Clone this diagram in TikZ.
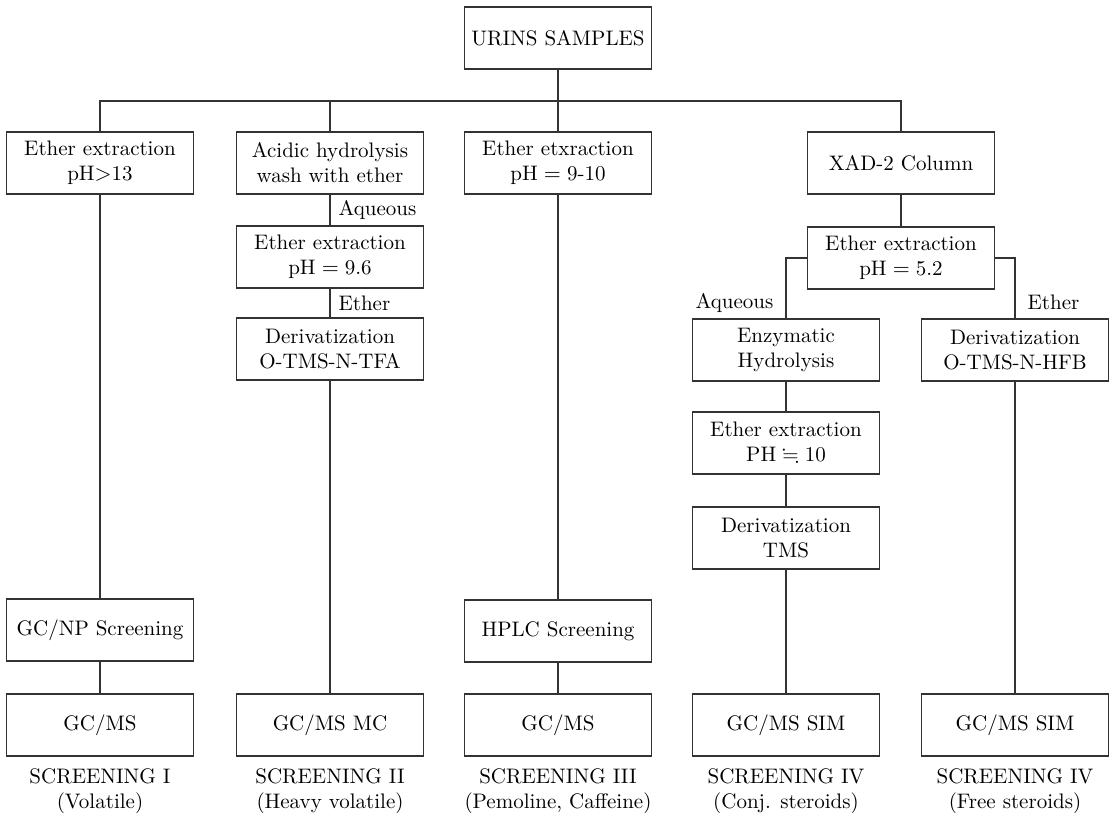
\documentclass[tikz,border=0pt]{standalone}
\usepackage{amssymb}
\usepackage{tikz}
\usetikzlibrary{positioning}
\tikzstyle{box} = [
    rectangle, text centered,
    align=center,
    draw=black!80,
    line width=0.6pt,
    minimum width=93.5pt,
    minimum height=31pt,
    inner sep=2pt,
    font=\fontsize{10.5}{12.5}\selectfont,
]
\tikzstyle{tag} = [
    align=center,
    inner sep=1pt,
    font=\fontsize{10.5}{12.5}\selectfont,
]
\tikzstyle{link} = [draw=black!80, line width=0.6pt]

\begin{document}
\begin{tikzpicture}[x=0.5pt,y=-0.5pt]
    \useasboundingbox (0,0) rectangle (1110,813);
    % boxes
    \node (urine) at (558,38) [box] {URINS SAMPLES};
    \node (extA) at (100,163) [box] {Ether extraction\\pH$>$13};
    \node (acid) at (330,163) [box] {Acidic hydrolysis\\wash with ether};
    \node (extB) at (330,257) [box] {Ether extraction\\pH${}={}$9.6};
    \node (derivB) at (330,349) [box] {Derivatization\\O-TMS-N-TFA};
    \node (extC) at (558,163) [box] {Ether etxraction\\pH${}={}$9-10};
    \node (xad) at (901,163) [box] {XAD-2 Column};
    \node (extD) at (901,258) [box] {Ether extraction\\pH${}={}$5.2};
    \node (enzyme) at (786,350) [box] {Enzymatic\\Hydrolysis};
    \node (derivF) at (1015,350) [box] {Derivatization\\O-TMS-N-HFB};
    \node (extE) at (786,443) [box] {Ether extraction\\PH${}\fallingdotseq{}$10};
    \node (derivE) at (786,538) [box] {Derivatization\\TMS};
    \node (npscreen) at (100,630) [box] {GC/NP Screening};
    \node (hplc) at (558,631) [box] {HPLC Screening};
    \foreach \name/\x/\txt in {msA/100/{GC/MS}, msB/330/{GC/MS MC}, msC/558/{GC/MS},
                               msD/786/{GC/MS SIM}, msE/1015/{GC/MS SIM}} {
        \node (\name) at (\x,725) [box] {\txt};
    }

    % screening labels
    \node (labA) [tag, below=5pt of msA] {SCREENING I\\(Volatile)};
    \node (labB) [tag, below=5pt of msB] {SCREENING II\\(Heavy volatile)};
    \node (labC) [tag, below=5pt of msC] {SCREENING III\\(Pemoline, Caffeine)};
    \node (labD) [tag, below=5pt of msD] {SCREENING IV\\(Conj. steroids)};
    \node (labE) [tag, below=5pt of msE] {SCREENING IV\\(Free steroids)};

    % lines
    \coordinate (bus) at (558,101);
    \draw [link] (urine) to (extC);
    \foreach \top in {extA, acid, xad} {
        \draw [link] (bus) -| (\top);
    }
    \draw [link] (extA) to (npscreen);
    \draw [link] (npscreen) to (msA);
    \draw [link] (acid) to node[tag, right=3pt] {Aqueous} (extB);
    \draw [link] (extB) to node[tag, right=3pt] {Ether} (derivB);
    \draw [link] (derivB) to (msB);
    \draw [link] (extC) to (hplc);
    \draw [link] (hplc) to (msC);
    \draw [link] (xad) to (extD);
    \draw [link] (extD.west) -| node[tag, pos=0.87, left=5pt] {Aqueous} (enzyme);
    \draw [link] (extD.east) -| node[tag, pos=0.87, right=5pt] {Ether} (derivF);
    \draw [link] (enzyme) to (extE);
    \draw [link] (extE) to (derivE);
    \draw [link] (derivE) to (msD);
    \draw [link] (derivF) to (msE);

\end{tikzpicture}
\end{document}
